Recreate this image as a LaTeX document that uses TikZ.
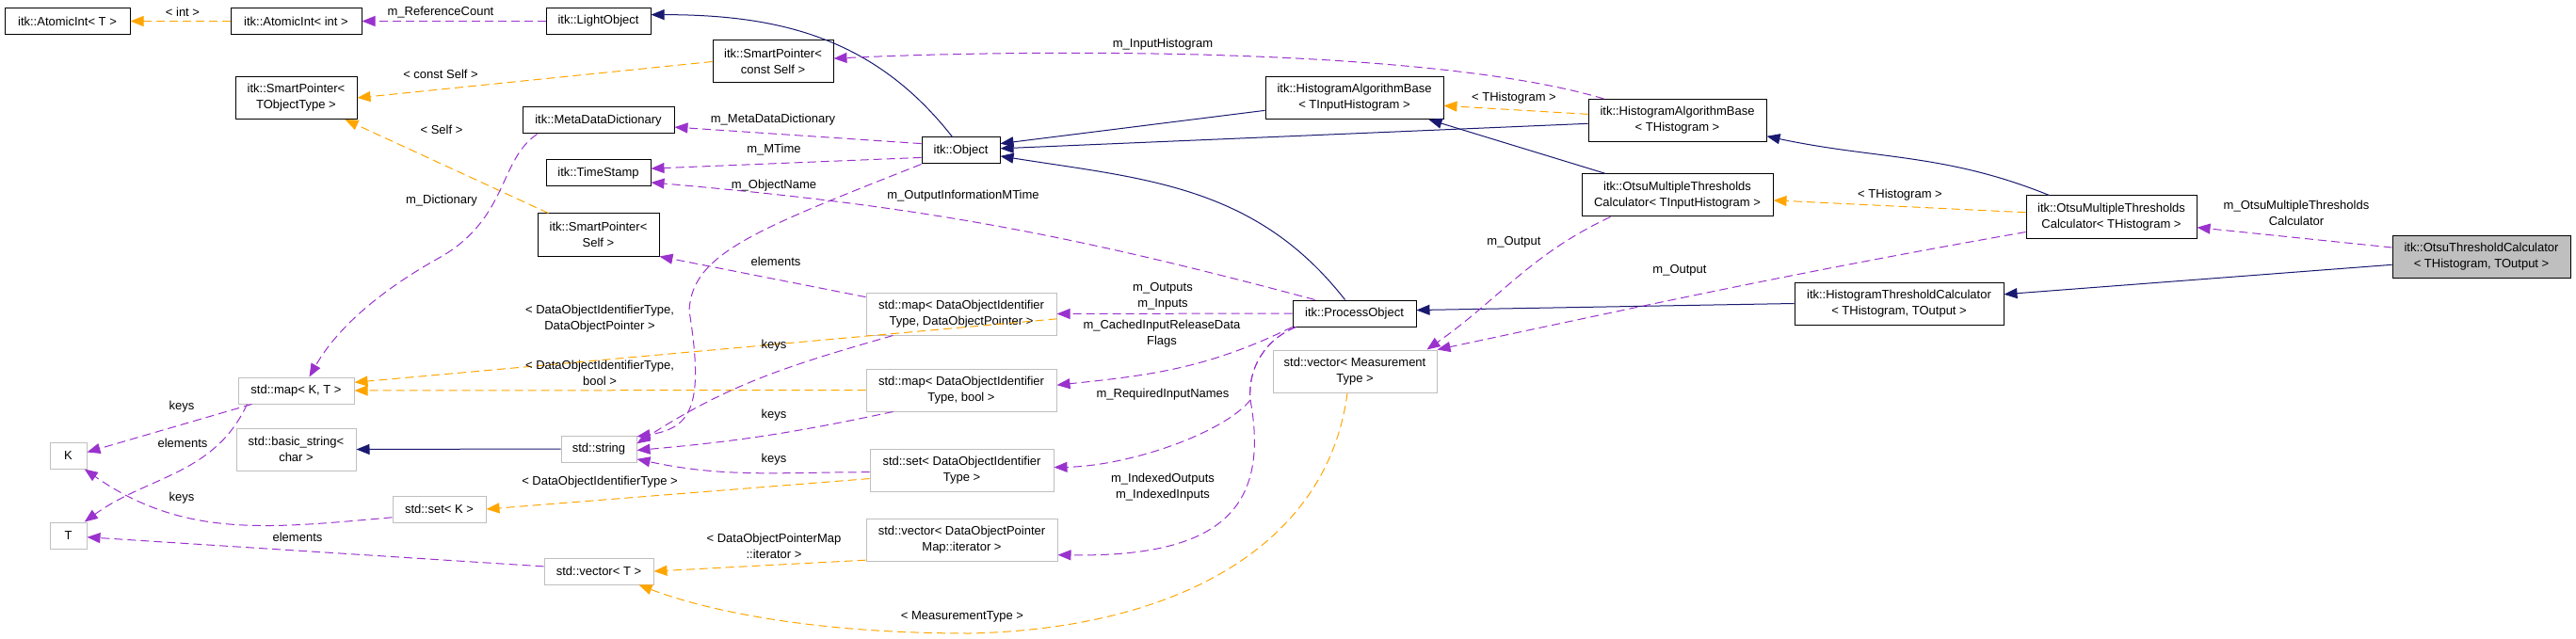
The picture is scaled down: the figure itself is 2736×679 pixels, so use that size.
\documentclass[tikz,border=0pt]{standalone}
\usepackage{fontspec}
\setmainfont{Liberation Sans}
\usepackage{tikz}
\usetikzlibrary{arrows.meta, positioning}
\definecolor{edgeblue}{RGB}{25,25,112}
\definecolor{edgepurple}{RGB}{154,50,205}
\definecolor{edgeorange}{RGB}{255,165,0}
\definecolor{stdgray}{RGB}{191,191,191}
\definecolor{focusgray}{RGB}{191,191,191}
\newcommand{\dxfont}{\fontsize{13}{17}\selectfont}
\tikzset{
  itkbox/.style={rectangle, draw=black, fill=white, align=center,
    font=\dxfont, inner sep=1pt, line width=1pt},
  stdbox/.style={rectangle, draw=stdgray, fill=white, align=center,
    font=\dxfont, inner sep=1pt, line width=1pt},
  focusbox/.style={itkbox, fill=focusgray},
  onerow/.style={minimum height=28pt},
  tworow/.style={minimum height=45pt},
  inherit/.style={-{Triangle[length=14pt, width=11pt]}, line width=1pt, color=edgeblue},
  usage/.style={-{Triangle[length=14pt, width=11pt]}, line width=1pt,
    color=edgepurple, dash pattern=on 9pt off 5pt},
  tmpl/.style={-{Triangle[length=14pt, width=11pt]}, line width=1pt,
    color=edgeorange, dash pattern=on 9pt off 5pt},
  elabel/.style={font=\dxfont, align=center, inner sep=0pt}
}

\begin{document}
\begin{tikzpicture}[x=1pt, y=-1pt]
  \useasboundingbox (0,0) rectangle (2736,679);

  % itk classes
  \node[itkbox, onerow, minimum width=133pt] (atomicT) at (71.5,22.5) {itk::AtomicInt< T >};
  \node[itkbox, onerow, minimum width=139pt] (atomicInt) at (314.5,22.5) {itk::AtomicInt< int >};
  \node[itkbox, onerow, minimum width=111pt] (lightObj) at (635.5,22.5) {itk::LightObject};
  \node[itkbox, tworow, minimum width=128pt] (spConstSelf) at (821,65.5) {itk::SmartPointer<\\const Self >};
  \node[itkbox, tworow, minimum width=129pt] (spTObj) at (314.5,104) {itk::SmartPointer<\\TObjectType >};
  \node[itkbox, onerow, minimum width=161pt] (metaDict) at (635.5,128) {itk::MetaDataDictionary};
  \node[itkbox, onerow, minimum width=111pt] (timeStamp) at (635.5,184) {itk::TimeStamp};
  \node[itkbox, tworow, minimum width=129pt] (spSelf) at (635.5,249.5) {itk::SmartPointer<\\Self >};
  \node[itkbox, onerow, minimum width=83pt] (object) at (1020.5,160) {itk::Object};
  \node[itkbox, tworow, minimum width=189pt] (histBaseIn) at (1438.5,104) {itk::HistogramAlgorithmBase\\< TInputHistogram >};
  \node[itkbox, tworow, minimum width=189pt] (histBaseH) at (1781.5,128) {itk::HistogramAlgorithmBase\\< THistogram >};
  \node[itkbox, tworow, minimum width=203pt] (otsuMultiIn) at (1781.5,207.5) {itk::OtsuMultipleThresholds\\Calculator< TInputHistogram >};
  \node[itkbox, onerow, minimum width=131pt] (processObj) at (1438.5,333) {itk::ProcessObject};
  \node[itkbox, tworow, minimum width=181pt] (otsuMultiH) at (2242.5,230.5) {itk::OtsuMultipleThresholds\\Calculator< THistogram >};
  \node[focusbox, tworow, minimum width=189pt] (otsuThresh) at (2635.5,273) {itk::OtsuThresholdCalculator\\< THistogram, TOutput >};
  \node[itkbox, tworow, minimum width=222pt] (histThresh) at (2017,322.5) {itk::HistogramThresholdCalculator\\< THistogram, TOutput >};

  % std containers
  \node[stdbox, tworow, minimum width=202pt] (mapDOP) at (1021,333.5) {std::map< DataObjectIdentifier\\Type, DataObjectPointer >};
  \node[stdbox, tworow, minimum width=202pt] (mapBool) at (1021,414.5) {std::map< DataObjectIdentifier\\Type, bool >};
  \node[stdbox, tworow, minimum width=195pt] (setDOI) at (1021.5,500) {std::set< DataObjectIdentifier\\Type >};
  \node[stdbox, tworow, minimum width=203pt] (vecIter) at (1021.5,573.5) {std::vector< DataObjectPointer\\Map::iterator >};
  \node[stdbox, tworow, minimum width=174pt] (vecMeas) at (1439,394.5) {std::vector< Measurement\\Type >};
  \node[stdbox, onerow, minimum width=80pt] (stdString) at (636,477) {std::string};
  \node[stdbox, onerow, minimum width=116pt] (vecT) at (636,607) {std::vector< T >};
  \node[stdbox, onerow, minimum width=123pt] (mapKT) at (314.5,415) {std::map< K, T >};
  \node[stdbox, tworow, minimum width=127pt] (basicString) at (314.5,477.5) {std::basic\_string<\\char >};
  \node[stdbox, onerow, minimum width=39pt] (nodeK) at (72.5,484) {K};
  \node[stdbox, onerow, minimum width=39pt] (nodeT) at (72.5,569) {T};
  \node[stdbox, onerow, minimum width=99pt] (setK) at (466.5,541) {std::set< K >};

  % bend points
  \coordinate (objBend) at (732,330);
  \coordinate (dictBend) at (470,272);
  \coordinate (reqBend) at (1328,425);
  \coordinate (measLow) at (1030,673);

  % Inheritance
  \draw[inherit] ([xshift=-9pt]object.north) to[out=128, in=0] (lightObj.7);
  \draw[inherit] (stdString.west) -- (basicString.east);
  \draw[inherit] (histBaseIn.188) -- (object.10);
  \draw[inherit] (histBaseH.182) -- (object.3);
  \draw[inherit] ([xshift=-10pt]processObj.north) to[out=128, in=-9] (object.-8);
  \draw[inherit] ([xshift=26pt]otsuMultiIn.north west) -- ([xshift=-16pt]histBaseIn.south east);
  \draw[inherit] ([xshift=25pt]otsuMultiH.north west) to[out=158, in=-12] (histBaseH.-10);
  \draw[inherit] (otsuThresh.185) -- (histThresh.5);
  \draw[inherit] (histThresh.west) -- (processObj.3);

  % Template instances
  \draw[tmpl] (atomicInt.west) -- (atomicT.east);
  \draw[tmpl] (spConstSelf.west) -- (spTObj.east);
  \draw[tmpl] ([xshift=12pt]spSelf.north west) -- ([xshift=-13pt]spTObj.south east);
  \draw[tmpl] (mapDOP.-3) -- (mapKT.8);
  \draw[tmpl] (mapBool.west) -- (mapKT.east);
  \draw[tmpl] (setDOI.185) -- (setK.east);
  \draw[tmpl] (vecIter.192) -- (vecT.east);
  \draw[tmpl] ([xshift=-8pt]vecMeas.south) .. controls (1410,580) and (1250,668) .. (measLow)
    .. controls (850,673) and (740,645) .. ([xshift=-16pt]vecT.south east);
  \draw[tmpl] (histBaseH.176) -- (histBaseIn.-5);
  \draw[tmpl] (otsuMultiH.177) -- (otsuMultiIn.-3);

  % Members
  \draw[usage] (lightObj.west) -- (atomicInt.east);
  \draw[usage] ([xshift=17pt]histBaseH.north west) .. controls (1520,50) and (1100,52) .. (spConstSelf.3);
  \draw[usage] (object.170) -- (metaDict.-5);
  \draw[usage] (object.190) -- (timeStamp.5);
  \draw[usage] ([xshift=24pt]processObj.north west) to[out=165, in=-5] (timeStamp.-10);
  \draw[usage] (object.south west) .. controls (800,245) and (735,270) .. (objBend)
    .. controls (748,430) and (735,455) .. (stdString.18);
  \draw[usage] ([xshift=16pt]metaDict.south west) .. controls (530,170) and (540,230) .. (dictBend)
    .. controls (410,305) and (360,345) .. ([xshift=14pt]mapKT.north);
  \draw[usage] (mapDOP.170) -- (spSelf.south east);
  \draw[usage] ([xshift=29pt]mapDOP.south west) to[out=196, in=33] (stdString.8);
  \draw[usage] ([xshift=29pt]mapBool.south west) to[out=192, in=5] (stdString.-2);
  \draw[usage] (setDOI.181) to[out=180, in=-12] (stdString.-15);
  \draw[usage] ([xshift=15pt]mapKT.south west) -- (nodeK.10);
  \draw[usage] ([xshift=10pt]mapKT.south west) to[out=245, in=36] (nodeT.40);
  \draw[usage] (setK.190) to[out=185, in=-35] (nodeK.-40);
  \draw[usage] (vecT.175) -- (nodeT.-5);
  \draw[usage] (processObj.west) -- (mapDOP.east);
  \draw[usage] (processObj.south west) to[out=206, in=6] (mapBool.3);
  \draw[usage] ([xshift=4pt]processObj.south west) .. controls (1345,360) and (1325,390) .. (reqBend)
    .. controls (1300,460) and (1200,495) .. (setDOI.2);
  \draw[usage] ([xshift=4pt]processObj.south west) .. controls (1345,360) and (1325,390) .. (reqBend)
    .. controls (1350,545) and (1290,592) .. (vecIter.-9);
  \draw[usage] ([xshift=31pt]otsuMultiIn.south west) to[out=205, in=35] ([xshift=-11pt]vecMeas.north east);
  \draw[usage] (otsuMultiH.190) to[out=190, in=12] (vecMeas.north east);
  \draw[usage] (otsuThresh.174) -- (otsuMultiH.-7);

  % Edge labels
  \node[elabel] (lblInt) at (194,13) {< int >};
  \node[elabel] (lblRefCount) at (468,13) {m\_ReferenceCount};
  \node[elabel] (lblConstSelf) at (468,79) {< const Self >};
  \node[elabel] (lblInputHist) at (1235,47) {m\_InputHistogram};
  \node[elabel] (lblSelf) at (469,138) {< Self >};
  \node[elabel] (lblMetaDict) at (821,127) {m\_MetaDataDictionary};
  \node[elabel] (lblMTime) at (822,159) {m\_MTime};
  \node[elabel] (lblObjName) at (822,197) {m\_ObjectName};
  \node[elabel] (lblOutInfo) at (1023,208) {m\_OutputInformationMTime};
  \node[elabel] (lblDict) at (469,213) {m\_Dictionary};
  \node[elabel] (lblElemSelf) at (824,278) {elements};
  \node[elabel] (lblMapDOP) at (637,339) {< DataObjectIdentifierType,\\DataObjectPointer >};
  \node[elabel] (lblKeysDOP) at (822,367) {keys};
  \node[elabel] (lblMapBool) at (637,396) {< DataObjectIdentifierType,\\bool >};
  \node[elabel] (lblKeysBool) at (822,441) {keys};
  \node[elabel] (lblKeysSet) at (822,488) {keys};
  \node[elabel] (lblSetDOI) at (637,512) {< DataObjectIdentifierType >};
  \node[elabel] (lblKeysK) at (193,432) {keys};
  \node[elabel] (lblElemT) at (194,471) {elements};
  \node[elabel] (lblKeysSetK) at (193,529) {keys};
  \node[elabel] (lblElemVec) at (316,571) {elements};
  \node[elabel] (lblIter) at (822,580) {< DataObjectPointerMap\\::iterator >};
  \node[elabel] (lblMeasType) at (1022,655) {< MeasurementType >};
  \node[elabel] (lblIO) at (1235,315) {m\_Outputs\\m\_Inputs};
  \node[elabel] (lblCached) at (1234,355) {m\_CachedInputReleaseData\\Flags};
  \node[elabel] (lblReqNames) at (1235,419) {m\_RequiredInputNames};
  \node[elabel] (lblIndexed) at (1235,518) {m\_IndexedOutputs\\m\_IndexedInputs};
  \node[elabel] (lblTHistA) at (1608,104) {< THistogram >};
  \node[elabel] (lblOutputA) at (1608,257) {m\_Output};
  \node[elabel] (lblOutputB) at (1784,287) {m\_Output};
  \node[elabel] (lblTHistB) at (2018,207) {< THistogram >};
  \node[elabel] (lblOtsuMulti) at (2439,226) {m\_OtsuMultipleThresholds\\Calculator};
\end{tikzpicture}
\end{document}
